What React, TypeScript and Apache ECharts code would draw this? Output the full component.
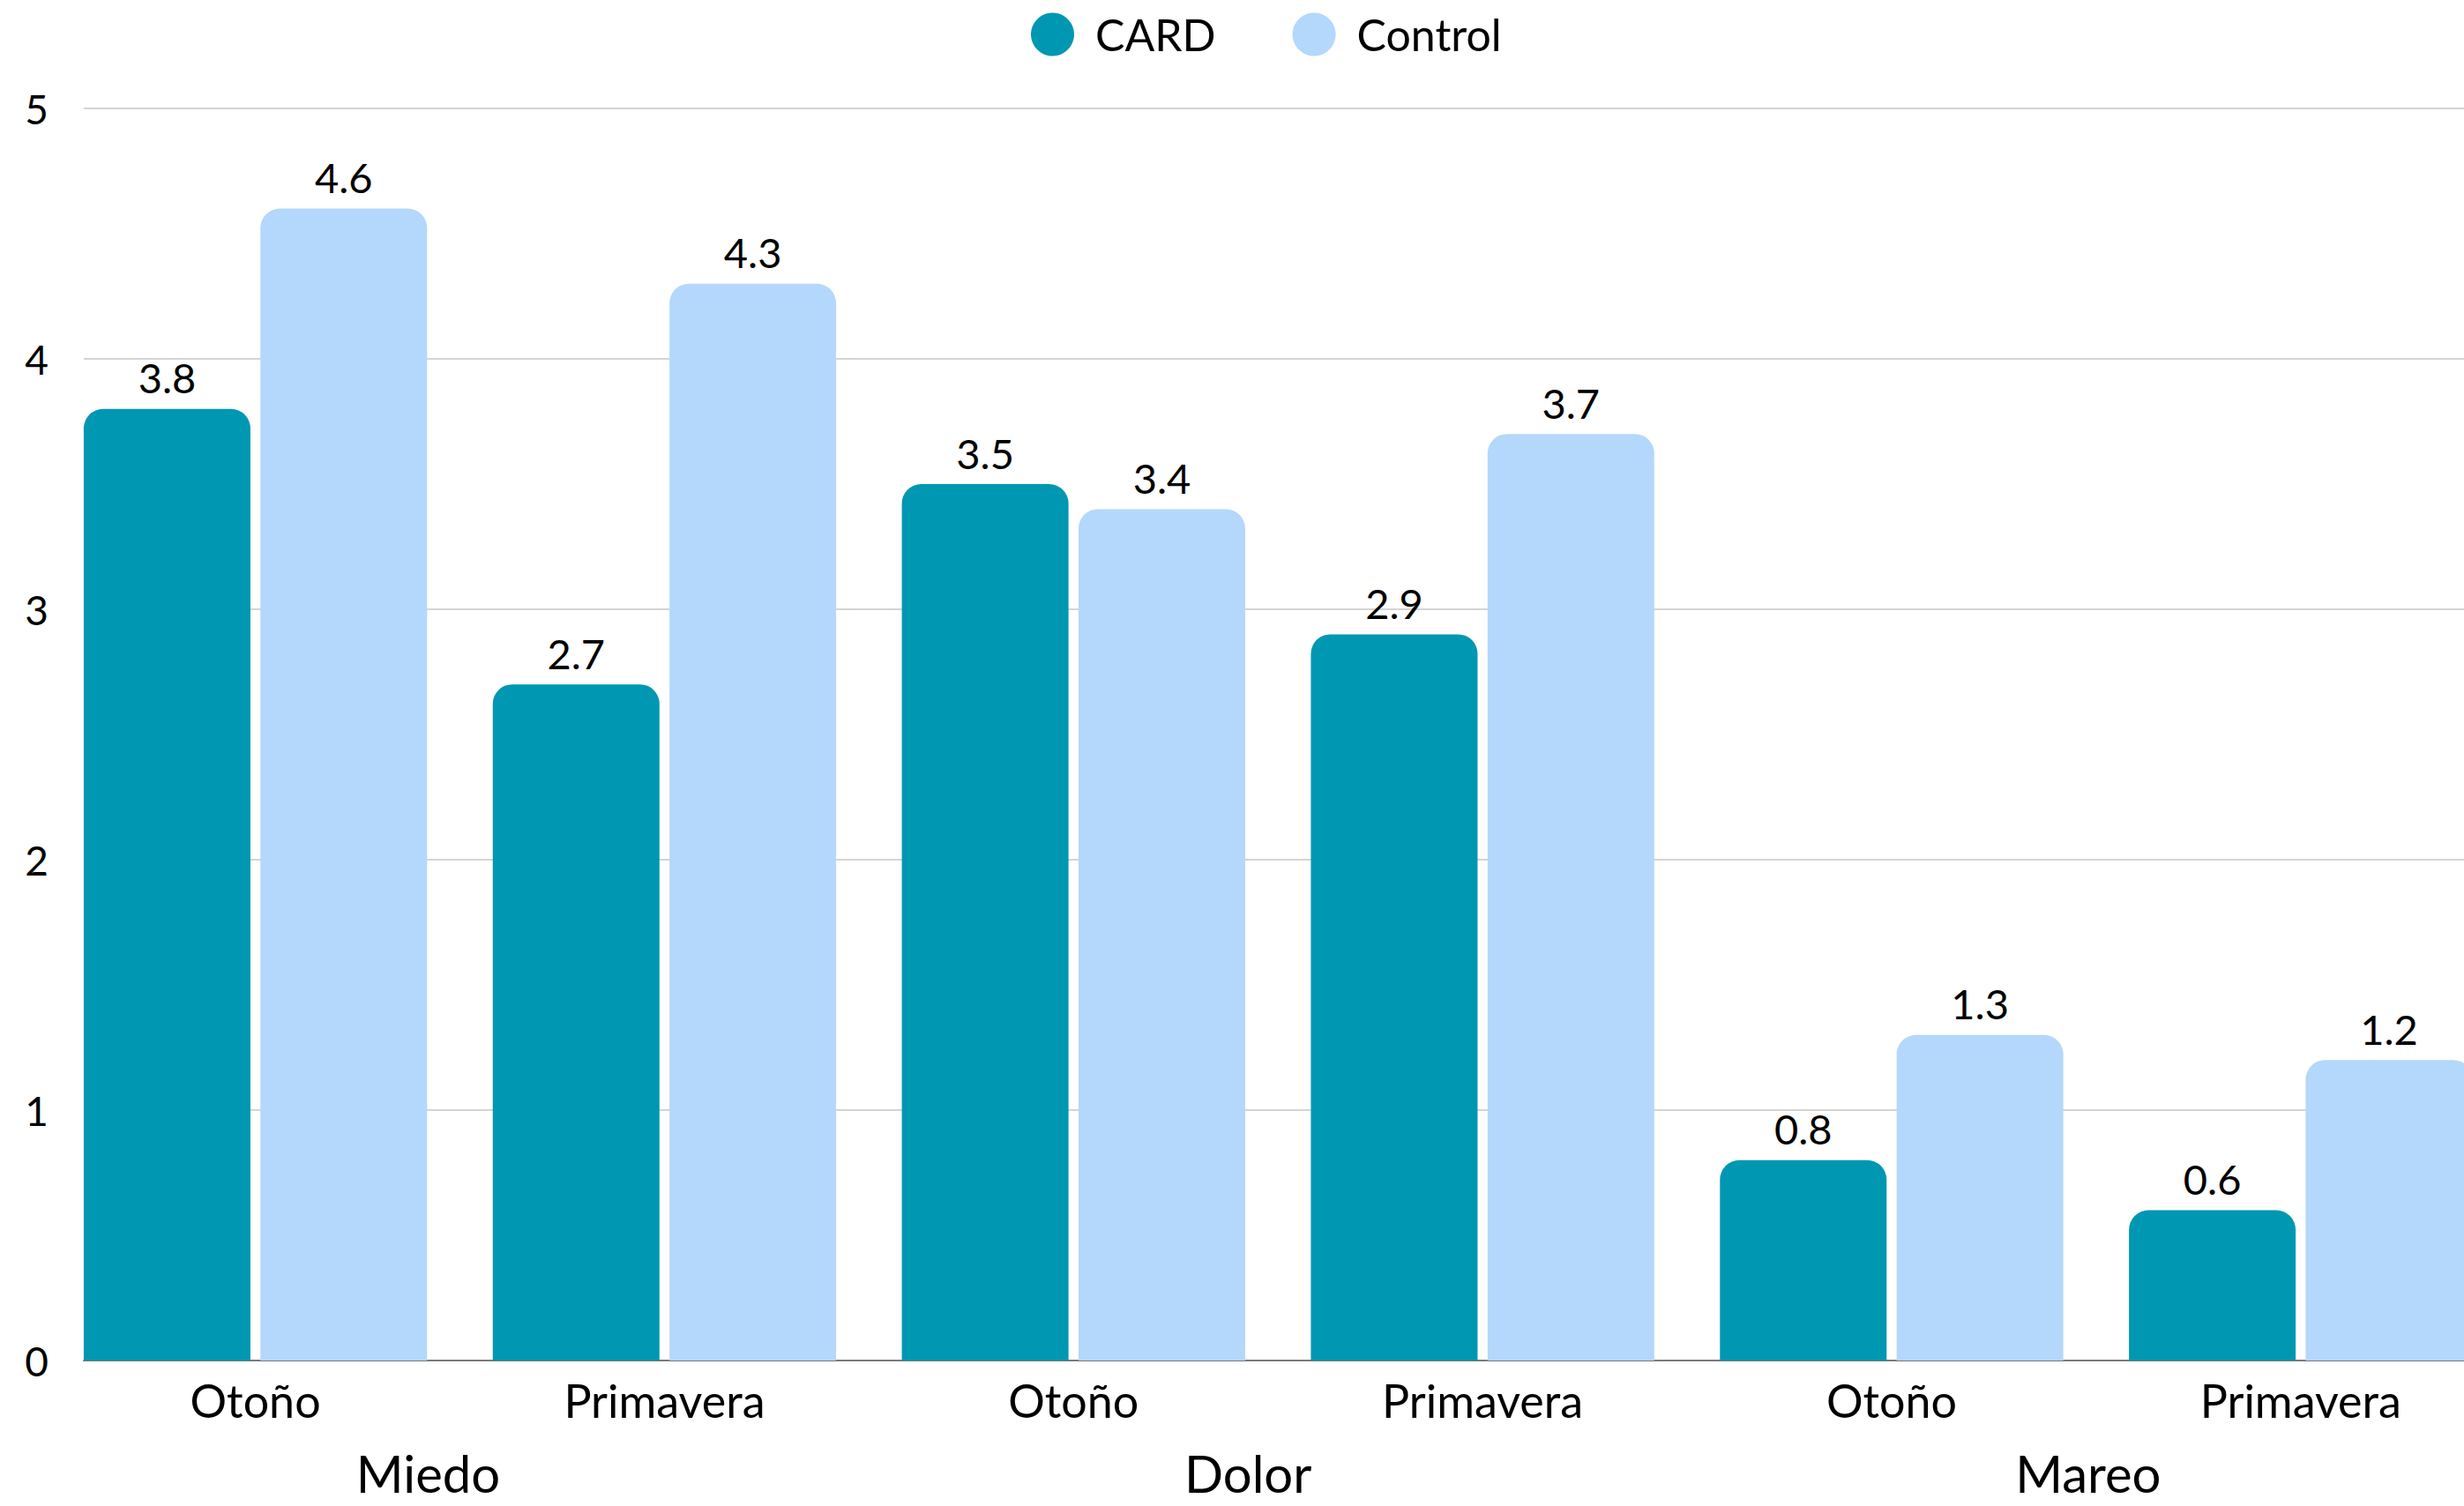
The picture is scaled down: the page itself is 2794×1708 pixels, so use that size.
import React, { useEffect, useRef } from "react";
import * as echarts from "echarts";

const categories = ["Otoño", "Primavera", "Otoño", "Primavera", "Otoño", "Primavera"];
const groups = ["Miedo", "Dolor", "Mareo"];
const seriesNames = ["CARD", "Control"];
const cardValues = [3.8, 2.7, 3.5, 2.9, 0.8, 0.6];
const controlValues = [4.6, 4.3, 3.4, 3.7, 1.3, 1.2];
const yTicks = [0, 1, 2, 3, 4, 5];

const FONT = "Lato";
const CARD_COLOR = "#0097b2";
const CONTROL_COLOR = "#b4d7fc";

// the original chart continues past the right edge of the picture
const CANVAS_W = 2845;
const CANVAS_H = 1708;

export default function App() {
  const ref = useRef<HTMLDivElement>(null);

  useEffect(() => {
    document.body.style.margin = "0";
    document.body.style.overflow = "hidden";
    document.documentElement.style.overflow = "hidden";
    const chart = echarts.init(ref.current!, undefined, { renderer: "svg" });
    const catKeys = categories.map((c, i) => groups[Math.floor(i / 2)] + "|" + c);
    const yMin = yTicks[0];
    const yMax = yTicks[yTicks.length - 1];

    const gridTop = 123;
    const gridHeight = 1420;

    const labelStyle = {
      show: true,
      position: "top" as const,
      distance: 12,
      fontSize: 47,
      color: "#000",
      fontFamily: FONT,
    };

    chart.setOption({
      animation: false,
      backgroundColor: "#ffffff",
      textStyle: { fontFamily: FONT },
      legend: {
        data: seriesNames,
        icon: "circle",
        itemWidth: 49,
        itemHeight: 49,
        left: 1164,
        top: 9,
        itemGap: 87,
        textStyle: { fontSize: 50, color: "#000", fontFamily: FONT, padding: [0, 0, 0, 19] },
      },
      grid: [
        { left: 95, top: gridTop, width: 2746, height: gridHeight },
        { left: 57.7, top: gridTop, width: 2783, height: gridHeight },
      ],
      xAxis: [
        {
          type: "value",
          gridIndex: 0,
          min: 0,
          max: 1,
          axisLine: { show: true, onZero: true, lineStyle: { color: "#7a7a7a", width: 2 } },
          axisLabel: { show: false },
          axisTick: { show: false },
          splitLine: { show: false },
        },
        {
          type: "category",
          gridIndex: 1,
          data: catKeys,
          axisLine: { show: false },
          axisTick: { show: false },
          axisLabel: {
            formatter: (v: string) => v.split("|")[1],
            fontSize: 52,
            color: "#000",
            fontFamily: FONT,
            margin: 19,
          },
        },
      ],
      yAxis: [
        {
          type: "value",
          gridIndex: 0,
          min: yMin,
          max: yMax,
          interval: 1,
          axisLine: { show: false },
          axisTick: { show: false },
          axisLabel: { fontSize: 46, color: "#000", fontFamily: FONT, margin: 40 },
          splitLine: { lineStyle: { color: "#d4d4d4", width: 2 } },
        },
        {
          type: "value",
          gridIndex: 1,
          min: yMin,
          max: yMax,
          interval: 1,
          show: false,
          splitLine: { show: false },
        },
      ],
      series: [
        {
          name: seriesNames[0],
          type: "bar",
          xAxisIndex: 1,
          yAxisIndex: 1,
          data: cardValues,
          barWidth: 189,
          barGap: "6%",
          itemStyle: { color: CARD_COLOR, borderRadius: [22, 22, 0, 0] },
          label: labelStyle,
        },
        {
          name: seriesNames[1],
          type: "bar",
          xAxisIndex: 1,
          yAxisIndex: 1,
          data: controlValues,
          barWidth: 189,
          barGap: "6%",
          itemStyle: { color: CONTROL_COLOR, borderRadius: [22, 22, 0, 0] },
          label: labelStyle,
        },
      ],
    });

    const groupNudges = [-36, -34, -9];
    const baseY = chart.convertToPixel({ yAxisIndex: 1 }, 0) as number;
    const texts = groups.map((g, i) => {
      const x1 = chart.convertToPixel({ xAxisIndex: 1 }, catKeys[2 * i]) as number;
      const x2 = chart.convertToPixel({ xAxisIndex: 1 }, catKeys[2 * i + 1]) as number;
      return {
        type: "text",
        x: (x1 + x2) / 2 + groupNudges[i],
        y: baseY + 127,
        style: {
          text: g,
          fontSize: 58,
          lineHeight: 58,
          fontFamily: FONT,
          fill: "#000",
          textAlign: "center",
          textVerticalAlign: "middle",
        },
      };
    });
    chart.setOption({ graphic: texts });

    return () => chart.dispose();
  }, []);

  return <div ref={ref} style={{ width: CANVAS_W, height: CANVAS_H }} />;
}
